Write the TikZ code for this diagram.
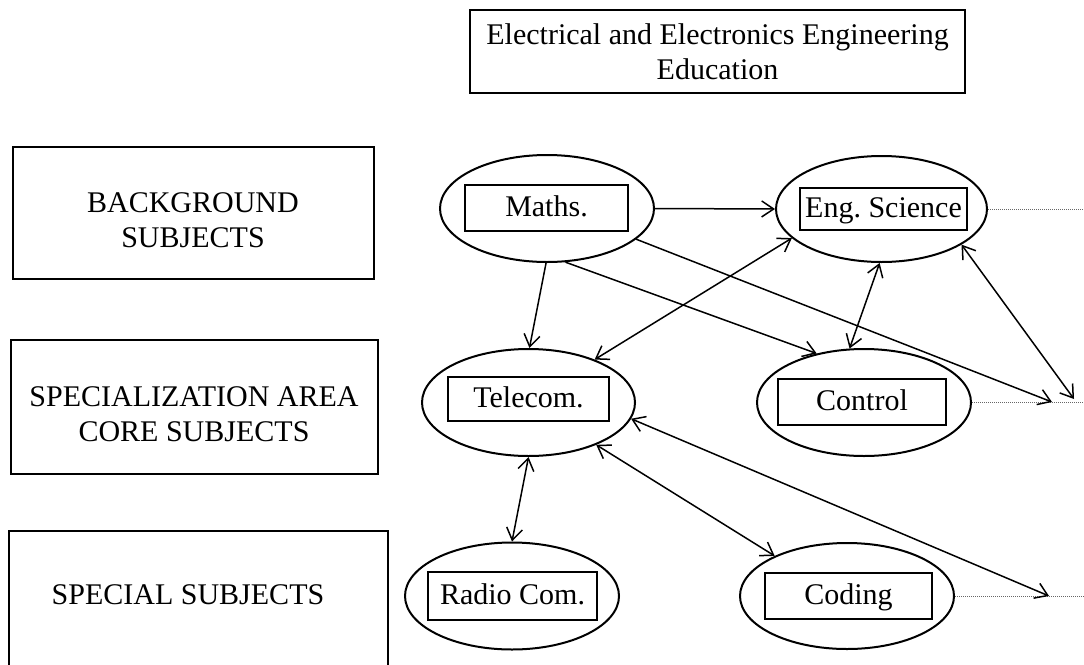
\documentclass[tikz,border=0pt]{standalone}
\usepackage{fontspec}
\setmainfont{Liberation Serif}
\usetikzlibrary{arrows.meta,shapes.geometric}
\frenchspacing
\begin{document}
\begin{tikzpicture}[x=1pt,y=-1pt,
  every node/.style={font=\fontsize{30}{34.5}\selectfont\frenchspacing},
  bigbox/.style={draw, line width=2.5pt, inner sep=0pt},
  oval/.style={draw, ellipse, line width=2pt, minimum width=214pt, minimum height=107pt, inner sep=0pt},
  inbox/.style={draw, line width=2.5pt, inner sep=0pt, text height=21pt, text depth=4pt},
  lbl/.style={align=center, inner sep=0pt},
  arr/.style={line width=1.5pt, -{Straight Barb[length=12pt,width=16pt]}},
  darr/.style={line width=1.5pt, {Straight Barb[length=12pt,width=16pt]}-{Straight Barb[length=12pt,width=16pt]}},
  dots/.style={densely dotted, line width=1pt, black!60}
]
\useasboundingbox (0,0) rectangle (1084,664);
\clip (0,0) rectangle (1084,664);

% title
\node[bigbox, minimum width=495pt, minimum height=83pt, align=center] (title) at (717.5,51.5) {Electrical and Electronics Engineering\\Education};

% left category boxes
\node[bigbox, minimum width=361pt, minimum height=132pt] (bg) at (193.5,213) {};
\node[lbl] (bgt) at (193,220) {BACKGROUND\\SUBJECTS};
\node[bigbox, minimum width=367pt, minimum height=134pt] (spec) at (194.5,407) {};
\node[lbl] (spect) at (194,414) {SPECIALIZATION AREA\\CORE SUBJECTS};
\node[bigbox, minimum width=379pt, minimum height=137pt] (special) at (198.5,599.5) {};
\node[lbl] (specialt) at (188,595) {SPECIAL SUBJECTS};

% subject ellipses
\node[oval] (maths) at (547,208.5) {};
\node[inbox, minimum width=163pt, minimum height=46pt] (mathsb) at (546.5,208) {Maths.};
\node[oval, minimum width=211pt, minimum height=106pt] (eng) at (881.5,209) {};
\node[inbox, minimum width=167pt, minimum height=42pt] (engb) at (883.5,209) {Eng. Science};
\node[oval, minimum width=213pt] (tele) at (528.5,402.5) {};
\node[inbox, minimum width=161pt, minimum height=44pt] (teleb) at (528.5,399) {Telecom.};
\node[oval] (radio) at (512,596) {};
\node[inbox, minimum width=169pt, minimum height=48pt] (radiob) at (512.5,596) {Radio Com.};
\node[oval] (ctrl) at (864,402.5) {};
\node[inbox, minimum width=168pt, minimum height=46pt] (ctrlb) at (862,402) {Control};
\node[oval, minimum height=106pt] (coding) at (847,596) {};
\node[inbox, minimum width=167pt, minimum height=46pt] (codingb) at (848.5,596) {Coding};

% free ends at the right
\coordinate (r1) at (1084,209);
\coordinate (r2) at (1084,402.5);
\coordinate (r3) at (1084,596);
\coordinate (pm) at (1052,402);
\coordinate (pe) at (1074,399);
\coordinate (pt) at (1049,596);

% dotted continuation lines
\draw[dots] (eng.east) -- (r1);
\draw[dots] (ctrl.east) -- (r2);
\draw[dots] (coding.east) -- (r3);

% connectors
\draw[arr] (maths.east) -- (eng.west);
\draw[arr] (maths.-91) -- (tele.89);
\draw[darr] (tele.33) -- (eng.-162);
\draw[arr] (maths.-71) -- (ctrl.134);
\draw[arr] (maths.-19) -- (pm);
\draw[darr] (ctrl.105) -- (eng.-92);
\draw[darr] (eng.-24) -- (pe);
\draw[darr] (tele.-90) -- (radio.90);
\draw[darr] (tele.-32) -- (coding.151);
\draw[darr] (tele.-9) -- (pt);
\end{tikzpicture}
\end{document}
